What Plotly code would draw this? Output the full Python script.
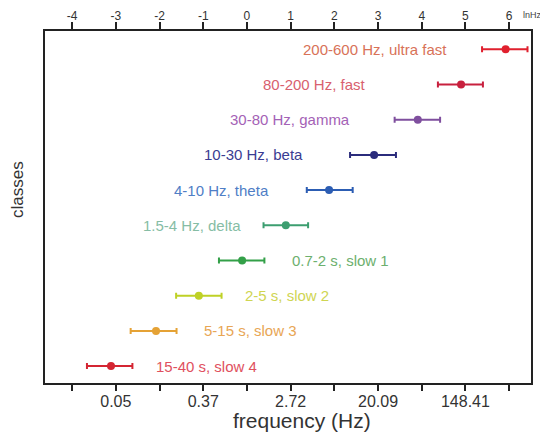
import plotly.graph_objects as go

# Classes, bottom to top
classes = ["15-40 s, slow 4", "5-15 s, slow 3", "2-5 s, slow 2", "0.7-2 s, slow 1",
           "1.5-4 Hz, delta", "4-10 Hz, theta", "10-30 Hz, beta", "30-80 Hz, gamma",
           "80-200 Hz, fast", "200-600 Hz, ultra fast"]
# values in ln(Hz)
center = [-3.11, -2.08, -1.10, -0.11, 0.89, 1.88, 2.91, 3.91, 4.90, 5.92]
low    = [-3.66, -2.66, -1.62, -0.64, 0.38, 1.37, 2.36, 3.38, 4.37, 5.38]
high   = [-2.62, -1.61, -0.58, 0.40, 1.40, 2.42, 3.41, 4.42, 5.40, 6.42]

bar_colors = ["#d42532", "#e5a235", "#bfd126", "#33a048", "#3c9e70", "#2c5db3",
              "#2b2c7c", "#7f4f9e", "#c8203e", "#e0202e"]
text_colors = ["#e0505e", "#e8a655", "#cfd552", "#6cb06e", "#86bda5", "#4f7ec6",
               "#3a3c92", "#a462b6", "#d8606e", "#d87258"]
# label placement: which side of the bar the label goes, and its anchor x (lnHz)
label_side = ["right"] * 4 + ["left"] * 6
label_x = [-2.13, -1.03, -0.09, 0.98, -0.09, 0.55, 1.33, 2.40, 2.77, 4.62]

top_ticks = [-4, -3, -2, -1, 0, 1, 2, 3, 4, 5, 6]
bottom_ticktext = ["", "0.05", "", "0.37", "", "2.72", "", "20.09", "", "148.41", ""]

FONT = "Liberation Sans, Arial, sans-serif"
W, H = 540, 430          # page body has an 8px margin
L, R, T, B = 37, 17, 23, 55
PW, PH = W - L - R, H - T - B


def px(x):
    return (x - L) / PW


def py(y):
    return (H - B - y) / PH


ys = list(range(len(classes)))
fig = go.Figure()
for i in ys:
    fig.add_trace(go.Scatter(
        x=[center[i]], y=[i], mode="markers",
        marker=dict(size=8, color=bar_colors[i]),
        error_x=dict(type="data", symmetric=False,
                     array=[high[i] - center[i]], arrayminus=[center[i] - low[i]],
                     color=bar_colors[i], thickness=2, width=3),
        showlegend=False, hoverinfo="skip", cliponaxis=False))
    fig.add_annotation(
        x=label_x[i], y=i, text=classes[i], showarrow=False,
        xanchor="left" if label_side[i] == "right" else "right",
        font=dict(family=FONT, size=15, color=text_colors[i]))

# top axis dummy trace
fig.add_trace(go.Scatter(x=[0], y=[0], xaxis="x2", mode="markers",
                         marker=dict(opacity=0), showlegend=False, hoverinfo="skip"))

rng = [-4.62, 6.5]
fig.update_layout(
    width=W, height=H,
    margin=dict(l=L, r=R, t=T, b=B),
    paper_bgcolor="white", plot_bgcolor="white",
    xaxis=dict(range=rng, tickvals=top_ticks, ticktext=bottom_ticktext,
               ticks="outside", ticklen=6, tickwidth=2, tickcolor="#222",
               showline=True, linewidth=2, linecolor="#222", showgrid=False,
               zeroline=False, tickfont=dict(family=FONT, size=16, color="#333"),
               ticklabelstandoff=-3, automargin=False),
    xaxis2=dict(range=rng, overlaying="x", side="top", anchor="y",
                tickvals=top_ticks, ticktext=[str(t) for t in top_ticks],
                ticks="outside", ticklen=7, tickwidth=2, tickcolor="#222",
                showline=True, linewidth=2, linecolor="#222", showgrid=False,
                zeroline=False, tickfont=dict(family=FONT, size=12, color="#333"),
                ticklabelstandoff=-3, automargin=False),
    yaxis=dict(range=[-0.48, 9.52], showticklabels=False, ticks="", showgrid=False,
               zeroline=False, showline=True, linewidth=2, linecolor="#222", mirror=True,
               automargin=False),
)
fig.add_annotation(x=px(9), y=py(182), xref="paper", yref="paper", text="classes",
                   showarrow=False, textangle=-90, xanchor="center", yanchor="middle",
                   font=dict(family=FONT, size=17, color="#333"))
fig.add_annotation(x=px(294), y=py(412), xref="paper", yref="paper", text="frequency (Hz)",
                   showarrow=False, xanchor="center", yanchor="middle",
                   font=dict(family=FONT, size=21, color="#333"))
fig.add_annotation(x=px(513), y=py(7), xref="paper", yref="paper", text="lnHz",
                   showarrow=False, xanchor="left", yanchor="middle",
                   font=dict(family=FONT, size=9, color="#444"))

fig.write_html("out.html")
